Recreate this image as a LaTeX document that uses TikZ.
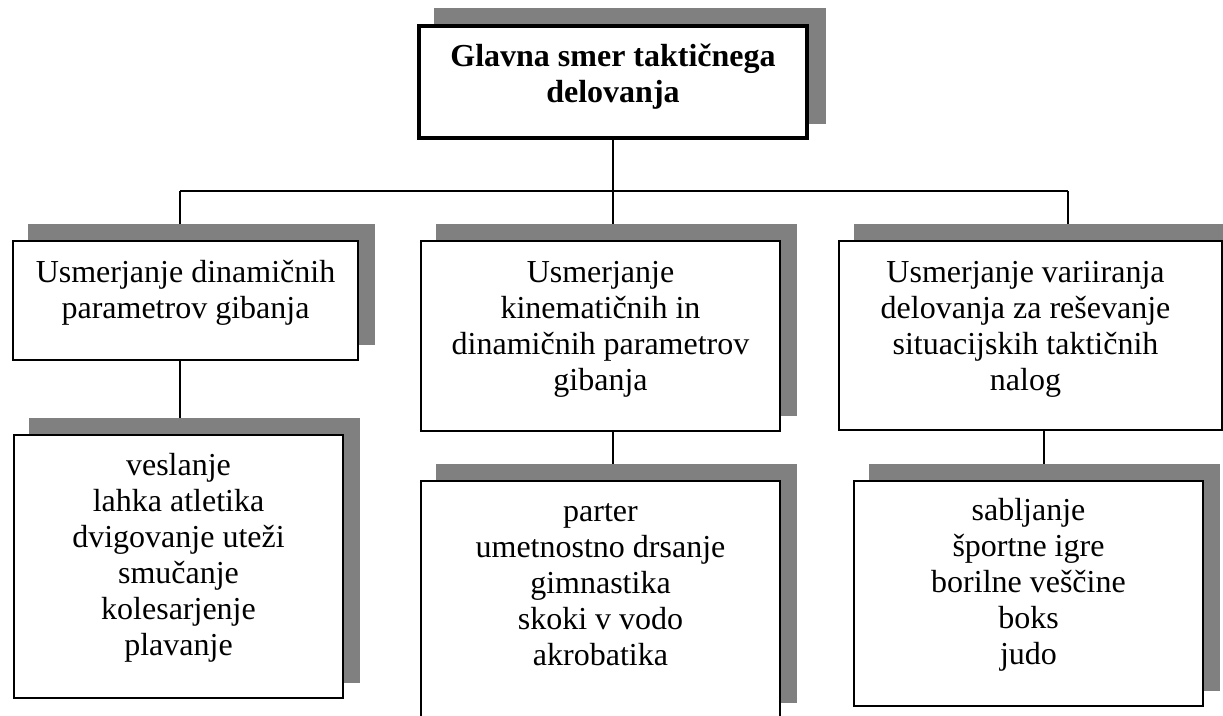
\documentclass[tikz,border=0pt]{standalone}
\usepackage{fontspec}
\setmainfont{Liberation Serif}
\usetikzlibrary{shadows,backgrounds}
\definecolor{shadowgray}{RGB}{128,128,128}
\begin{document}
\begin{tikzpicture}[x=1pt,y=-1pt,
  card/.style={draw, fill=white, line width=2pt, inner sep=0pt, anchor=north west,
    general shadow={fill=shadowgray, draw=shadowgray, line width=2pt,
      shadow xshift=16pt, shadow yshift=16pt}},
  headcard/.style={draw, fill=white, line width=4pt, inner sep=0pt, anchor=north west,
    general shadow={fill=shadowgray, draw=shadowgray, line width=4pt,
      shadow xshift=17pt, shadow yshift=16pt}},
  cardtext/.style={anchor=north, inner sep=0pt, align=center,
    font=\fontsize{32}{36}\selectfont},
  wire/.style={line width=1.3pt, draw=black}]
\useasboundingbox (0,0) rectangle (1223,715);
\clip (0,0) rectangle (1223,715);

% boxes
\node[headcard, minimum width=388pt, minimum height=112pt] (top) at (417,24) {};
\node[card, minimum width=345pt, minimum height=119pt] (lm) at (12,240) {};
\node[card, minimum width=359pt, minimum height=190pt] (cm) at (420,240) {};
\node[card, minimum width=383pt, minimum height=189pt] (rm) at (838,240) {};
\node[card, minimum width=329pt, minimum height=263pt] (lb) at (13,434) {};
\node[card, minimum width=359pt, minimum height=237pt] (cb) at (420,480) {};
\node[card, minimum width=349pt, minimum height=225pt] (rb) at (853,480) {};

% texts
\node[cardtext, font=\fontsize{32}{36}\selectfont\bfseries] (ttop) at ([yshift=-18pt]top.north)
  {\rule{0pt}{24pt}Glavna smer taktičnega\\delovanja};
\node[cardtext] (tlm) at ([yshift=-18pt]lm.north)
  {\rule{0pt}{24pt}Usmerjanje dinamičnih\\parametrov gibanja};
\node[cardtext] (tcm) at ([yshift=-18pt]cm.north)
  {\rule{0pt}{24pt}Usmerjanje\\kinematičnih in\\dinamičnih parametrov\\gibanja};
\node[cardtext] (trm) at ([xshift=-5pt,yshift=-18pt]rm.north)
  {\rule{0pt}{24pt}Usmerjanje variiranja\\delovanja za reševanje\\situacijskih taktičnih\\nalog};
\node[cardtext] (tlb) at ([yshift=-17pt]lb.north)
  {\rule{0pt}{24pt}veslanje\\lahka atletika\\dvigovanje uteži\\smučanje\\kolesarjenje\\plavanje};
\node[cardtext] (tcb) at ([yshift=-17pt]cb.north)
  {\rule{0pt}{24pt}parter\\umetnostno drsanje\\gimnastika\\skoki v vodo\\akrobatika};
\node[cardtext] (trb) at ([yshift=-16pt]rb.north)
  {\rule{0pt}{24pt}sabljanje\\športne igre\\borilne veščine\\boks\\judo};

% connectors, kept behind the boxes and their shadows
\coordinate (busL) at (180,191);
\coordinate (busR) at (1068,191);
\coordinate (rdrop) at (1044,430);
\begin{pgfonlayer}{background}
\draw[wire] (top.south) -- (top.south |- busL);
\draw[wire] (busL) -- (busR);
\draw[wire] (busL) -- (busL |- lm.north);
\draw[wire] (top.south |- busL) -- (top.south |- cm.north);
\draw[wire] (busR) -- (busR |- rm.north);
\draw[wire] (lm.south -| busL) -- (lb.north -| busL);
\draw[wire] (cm.south -| top.south) -- (cb.north -| top.south);
\draw[wire] (rdrop) -- (rb.north -| rdrop);
\end{pgfonlayer}
\end{tikzpicture}
\end{document}
